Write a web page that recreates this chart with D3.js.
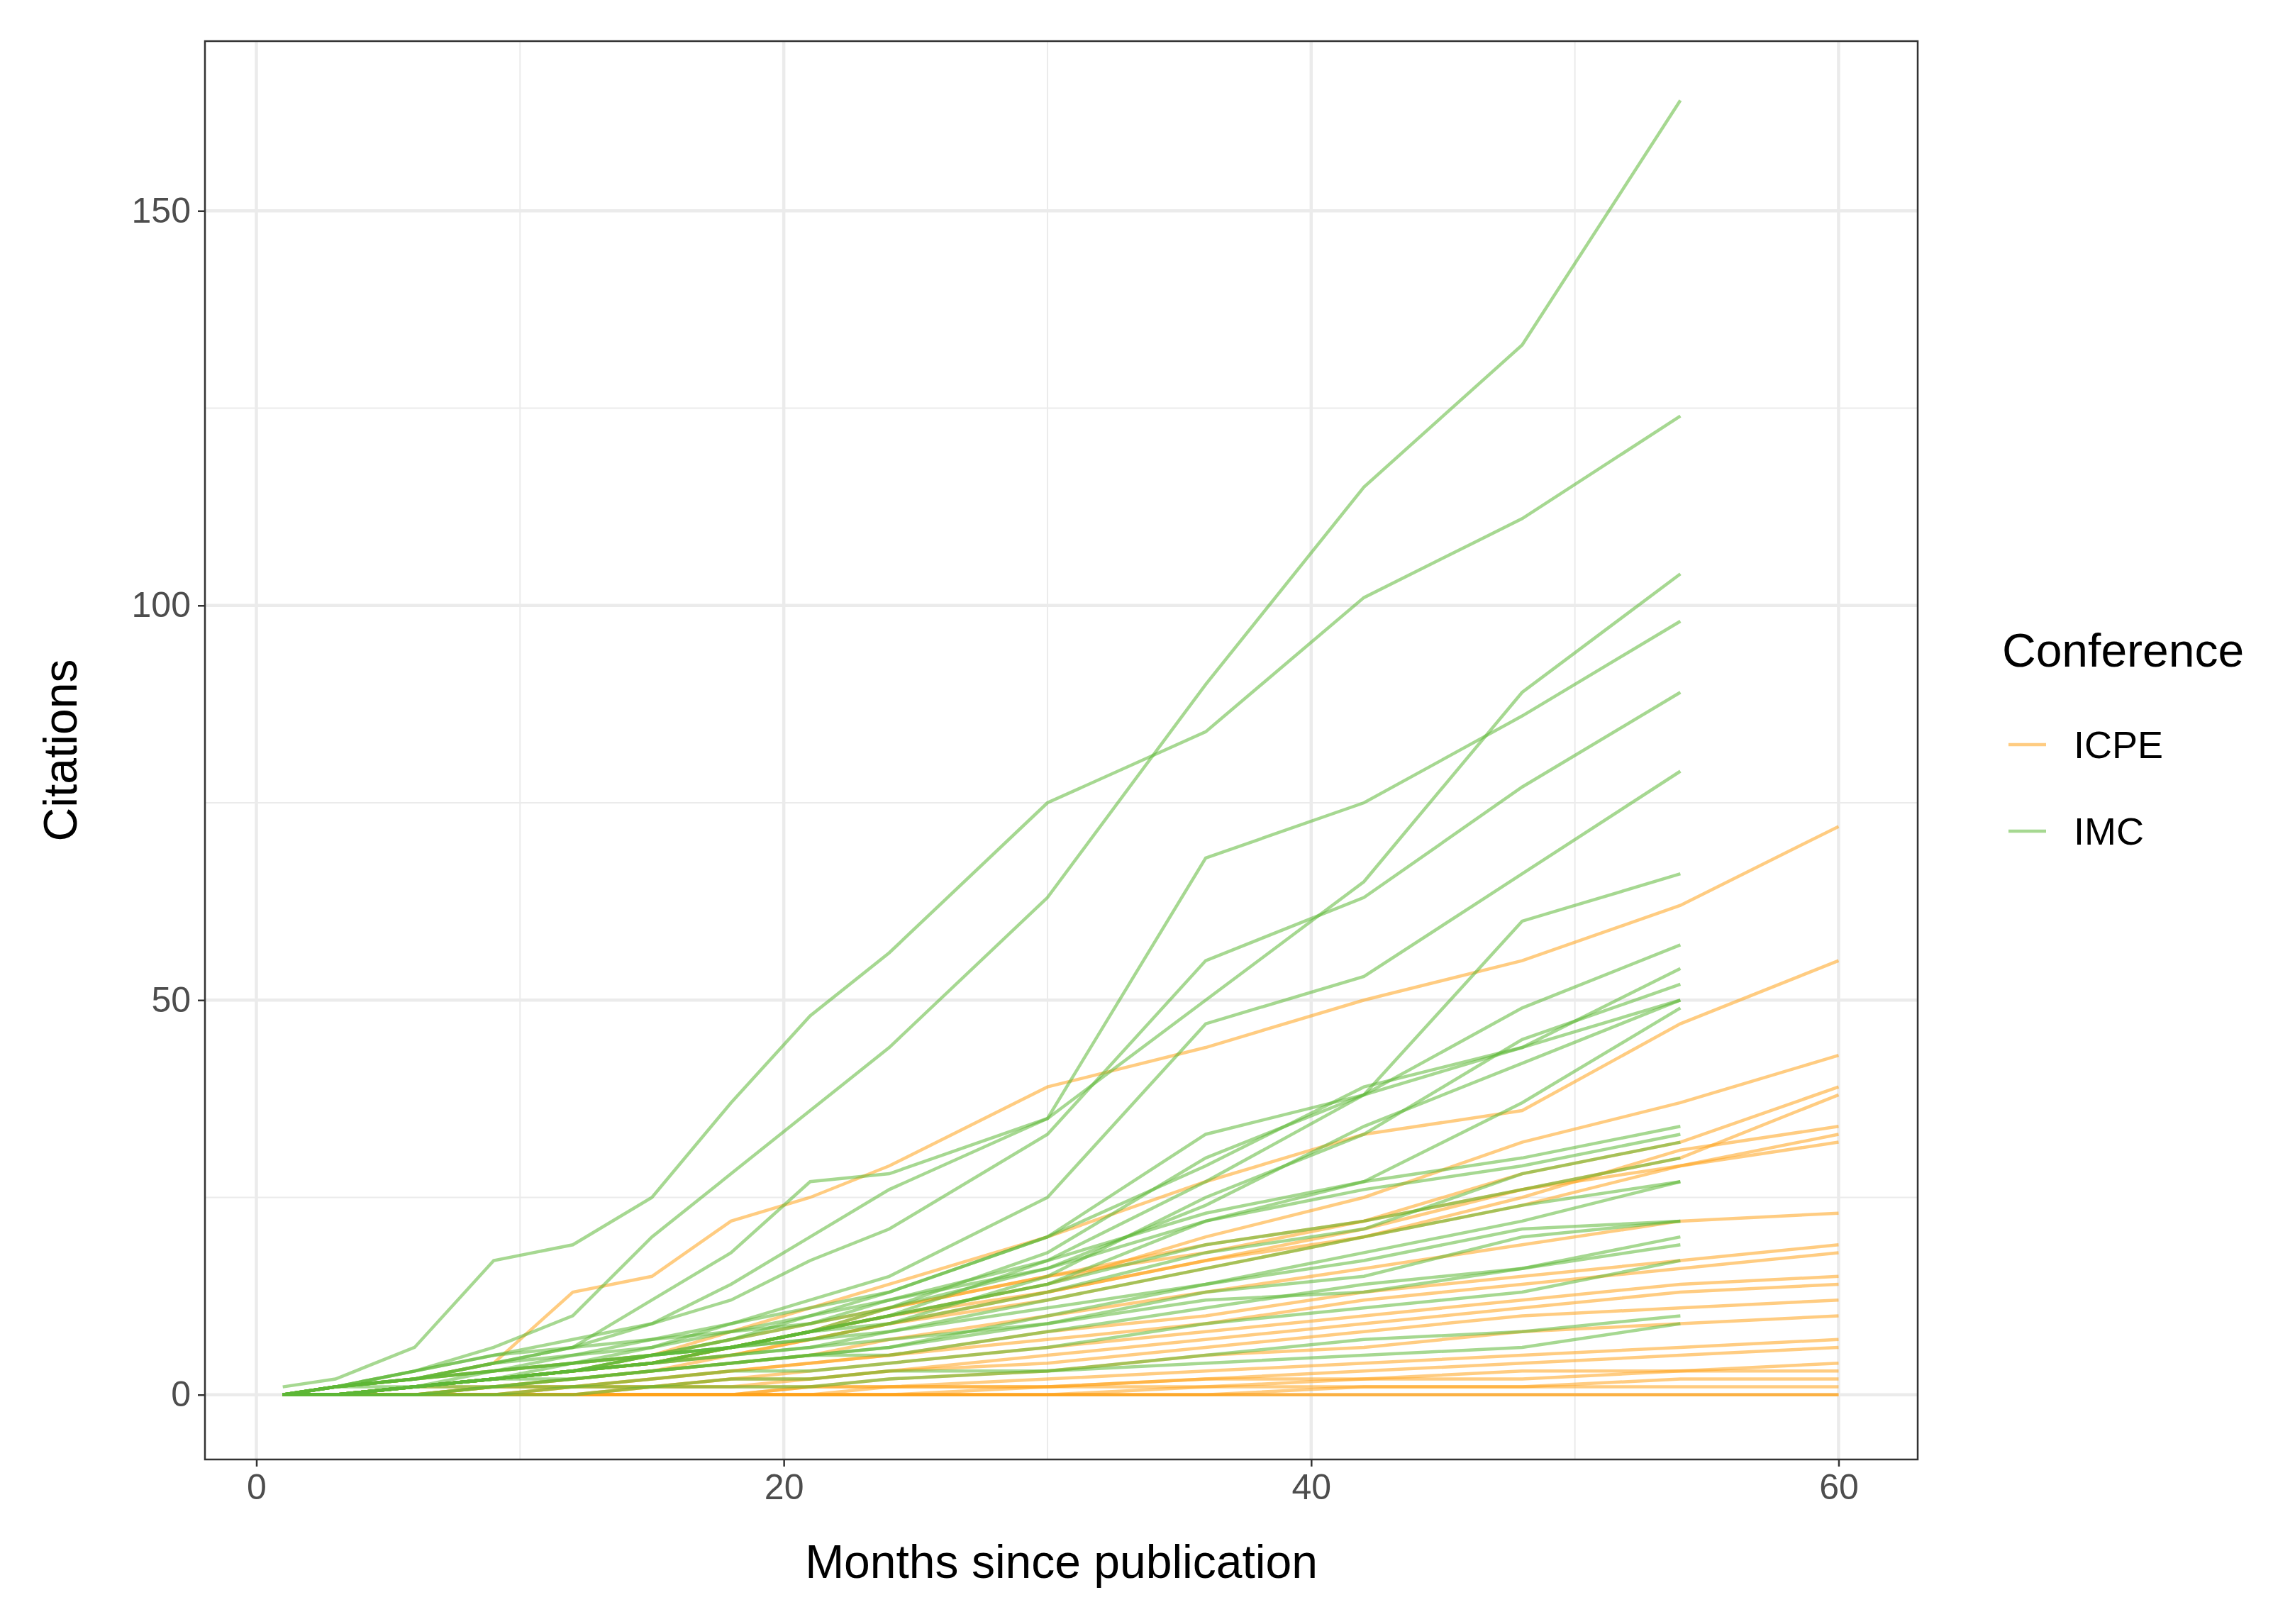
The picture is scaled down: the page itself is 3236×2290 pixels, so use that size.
<!DOCTYPE html>
<html><head><meta charset="utf-8">
<script src="https://cdn.jsdelivr.net/npm/d3@7"></script>
<style>body{margin:0;background:#fff}</style></head>
<body><svg id="c" width="3236" height="2290"></svg>
<script>
const monthsIMC = [1,3,6,9,12,15,18,21,24,30,36,42,48,54];
const monthsICPE = [1,3,6,9,12,15,18,21,24,30,36,42,48,54,60];
const imcSeries = [
[0,1,3,6,10,20,28,36,44,63,90,115,133,164],
[1,2,6,17,19,25,37,48,56,75,84,101,111,124],
[0,1,2,4,6,12,18,27,28,35,50,65,89,104],
[0,1,3,5,7,9,14,20,26,35,68,75,86,98],
[0,1,2,4,6,9,12,17,21,33,55,63,77,89],
[0,0,1,2,4,6,9,12,15,25,47,53,66,79],
[0,0,1,2,3,5,7,10,13,20,33,38,60,66],
[0,0,1,2,3,4,6,8,11,18,30,38,49,57],
[0,0,1,2,3,4,6,8,10,17,27,38,44,54],
[0,0,1,2,3,4,6,7,9,15,25,33,45,52],
[0,1,2,4,5,7,8,9,12,16,24,34,42,50],
[0,1,3,5,6,7,9,11,13,20,29,39,44,50],
[0,0,1,2,3,5,6,8,10,14,22,27,37,49],
[0,1,2,3,5,6,8,10,12,17,23,27,30,34],
[0,0,1,3,4,5,7,9,11,16,22,26,29,33],
[0,1,2,3,4,5,6,8,9,13,18,21,28,32],
[0,0,1,2,3,5,6,8,10,14,19,22,26,30],
[0,0,1,2,3,4,5,6,8,11,14,18,22,27],
[0,1,2,3,4,5,6,7,8,12,16,20,24,27],
[0,0,1,2,2,3,4,5,6,10,14,17,21,22],
[0,0,0,1,2,3,4,5,6,9,13,15,20,22],
[0,0,1,1,2,3,4,5,5,8,11,14,16,20],
[0,1,1,2,3,4,5,6,7,9,12,13,16,19],
[0,0,0,1,1,2,3,3,4,6,9,11,13,17],
[0,0,0,0,1,1,2,2,3,3,5,7,8,10],
[0,0,0,0,0,1,1,1,2,3,4,5,6,9]
];
const icpeSeries = [
[0,1,2,4,13,15,22,25,29,39,44,50,55,62,72],
[0,0,1,2,3,5,8,11,14,20,27,33,36,47,55],
[0,0,1,2,3,4,6,8,10,14,20,25,32,37,43],
[0,0,1,2,3,4,6,8,11,15,19,22,28,32,39],
[0,0,1,2,3,4,5,7,9,13,17,21,26,30,38],
[0,0,1,1,2,3,5,7,9,12,16,20,25,31,34],
[0,1,2,3,4,5,7,9,11,15,18,22,26,29,33],
[0,0,1,2,3,4,6,8,10,13,17,20,24,29,32],
[0,0,0,1,2,3,4,5,7,10,13,16,19,22,23],
[0,0,0,1,1,2,3,4,5,8,10,13,15,17,19],
[0,0,0,1,1,2,3,4,5,7,9,12,14,16,18],
[0,0,0,0,1,1,2,3,4,6,8,10,12,14,15],
[0,0,0,0,1,1,2,2,3,5,7,9,11,13,14],
[0,0,0,0,0,1,1,2,3,4,6,8,10,11,12],
[0,0,0,0,0,1,1,1,2,3,5,6,8,9,10],
[0,0,0,0,0,0,0,1,1,2,3,4,5,6,7],
[0,0,0,0,0,0,0,1,1,1,2,3,4,5,6],
[0,0,0,0,0,0,0,0,1,1,2,2,3,3,4],
[0,0,0,0,0,0,0,0,0,1,1,2,2,3,3],
[0,0,0,0,0,0,0,0,0,0,1,1,1,2,2],
[0,0,0,0,0,0,0,0,0,0,0,1,1,1,1],
[0,0,0,0,0,0,0,0,0,0,0,0,0,0,0],
[0,0,0,0,0,0,0,0,0,0,0,0,0,0,0]
];
const xTicks = [0,20,40,60], yTicks = [0,50,100,150];
const xMinor = [10,30,50], yMinor = [25,75,125];
const conferences = ["ICPE","IMC"];
const colors = {ICPE:"#ffa31a", IMC:"#5cb836"};

const svg = d3.select("#c"), F = "Liberation Sans, Arial, sans-serif";
const L=289,R=2704,T=58,B=2058;
const x = d3.scaleLinear().domain([-1.95,63]).range([L,R]);
const y = d3.scaleLinear().domain([-8.2,171.5]).range([B,T]);
const g = svg.append("g");
g.selectAll(".mx").data(xMinor).join("line").attr("x1",d=>x(d)).attr("x2",d=>x(d)).attr("y1",T).attr("y2",B).attr("stroke","#ebebeb").attr("stroke-width",2);
g.selectAll(".my").data(yMinor).join("line").attr("y1",d=>y(d)).attr("y2",d=>y(d)).attr("x1",L).attr("x2",R).attr("stroke","#ebebeb").attr("stroke-width",2);
g.selectAll(".Mx").data(xTicks).join("line").attr("x1",d=>x(d)).attr("x2",d=>x(d)).attr("y1",T).attr("y2",B).attr("stroke","#ebebeb").attr("stroke-width",4.5);
g.selectAll(".My").data(yTicks).join("line").attr("y1",d=>y(d)).attr("y2",d=>y(d)).attr("x1",L).attr("x2",R).attr("stroke","#ebebeb").attr("stroke-width",4.5);

const line = d3.line().x(d=>x(d[0])).y(d=>y(d[1]));
const clip = svg.append("clipPath").attr("id","cp").append("rect").attr("x",L).attr("y",T).attr("width",R-L).attr("height",B-T);
const lg = svg.append("g").attr("clip-path","url(#cp)");
icpeSeries.forEach(s=>lg.append("path").attr("d",line(s.map((v,i)=>[monthsICPE[i],v]))).attr("fill","none").attr("stroke",colors.ICPE).attr("stroke-opacity",0.55).attr("stroke-width",4.5));
imcSeries.forEach(s=>lg.append("path").attr("d",line(s.map((v,i)=>[monthsIMC[i],v]))).attr("fill","none").attr("stroke",colors.IMC).attr("stroke-opacity",0.55).attr("stroke-width",4.5));

svg.append("rect").attr("x",L).attr("y",T).attr("width",R-L).attr("height",B-T).attr("fill","none").attr("stroke","#333").attr("stroke-width",2.5);

const xa = svg.append("g").attr("transform",`translate(0,${B})`).call(d3.axisBottom(x).tickValues(xTicks).tickSize(10).tickPadding(10));
const ya = svg.append("g").attr("transform",`translate(${L},0)`).call(d3.axisLeft(y).tickValues(yTicks).tickSize(10).tickPadding(10));
[xa,ya].forEach(a=>{a.select(".domain").remove();a.selectAll("line").attr("stroke","#333").attr("stroke-width",2.5);a.selectAll("text").attr("font-family",F).attr("font-size",50).attr("fill","#4d4d4d");});

svg.append("text").attr("x",(L+R)/2).attr("y",2225).attr("text-anchor","middle").attr("font-family",F).attr("font-size",66).text("Months since publication");
svg.append("text").attr("transform",`translate(108,${(T+B)/2}) rotate(-90)`).attr("text-anchor","middle").attr("font-family",F).attr("font-size",66).text("Citations");

svg.append("text").attr("x",2823).attr("y",940).attr("font-family",F).attr("font-size",66).text("Conference");
conferences.forEach((c,i)=>{
  const yy = 1050 + i*122;
  svg.append("line").attr("x1",2832).attr("x2",2885).attr("y1",yy).attr("y2",yy).attr("stroke",colors[c]).attr("stroke-opacity",0.55).attr("stroke-width",4.5);
  svg.append("text").attr("x",2924).attr("y",yy+19).attr("font-family",F).attr("font-size",54).text(c);
});
</script></body></html>
